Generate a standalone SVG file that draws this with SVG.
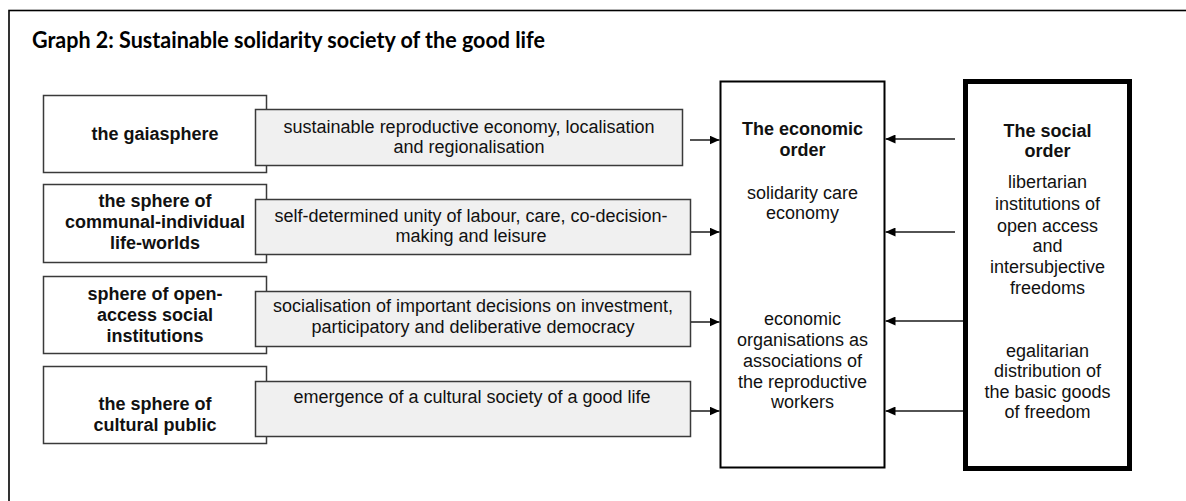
<svg xmlns="http://www.w3.org/2000/svg" width="1186" height="501" viewBox="0 0 1186 501">
<defs>
<style>
.frame{fill:#fff;stroke:#000;stroke-width:1.6}
.sphere{fill:#fff;stroke:#3a3a3a;stroke-width:1.5}
.grey{fill:#f0f0f0;stroke:#3a3a3a;stroke-width:1.5}
.econ{fill:#fff;stroke:#000;stroke-width:2}
.social{fill:#fff;stroke:#000;stroke-width:5}
.conn{stroke:#1a1a1a;stroke-width:1.5;fill:none;marker-end:url(#arr)}
text{font-family:"Liberation Sans",Arial,sans-serif;font-size:18px;fill:#111;text-anchor:middle}
.b{font-weight:bold}
.title{font-family:Lato,"Open Sans","Liberation Sans",sans-serif;font-weight:bold;font-size:23px;text-anchor:start;fill:#000}
</style>
<marker id="arr" markerUnits="userSpaceOnUse" markerWidth="10" markerHeight="9" refX="10" refY="4.5" orient="auto">
<path d="M0,0 L10,4.5 L0,9 Z" fill="#000"/>
</marker>
</defs>
<rect class="frame" x="9" y="10.5" width="1200" height="520"/>
<text class="title" x="32" y="48" textLength="513" lengthAdjust="spacingAndGlyphs">Graph 2: Sustainable solidarity society of the good life</text>

<g id="sphere1">
<rect class="sphere" x="43.5" y="95.5" width="223" height="77"/>
<text class="b" x="155" y="140">the gaiasphere</text>
</g>
<g id="sphere2">
<rect class="sphere" x="43.5" y="184.5" width="223" height="78"/>
<text class="b" x="155" y="207">the sphere of</text>
<text class="b" x="155" y="228">communal-individual</text>
<text class="b" x="155" y="249">life-worlds</text>
</g>
<g id="sphere3">
<rect class="sphere" x="43.5" y="276.5" width="223" height="77"/>
<text class="b" x="155" y="300">sphere of open-</text>
<text class="b" x="155" y="321">access social</text>
<text class="b" x="155" y="342">institutions</text>
</g>
<g id="sphere4">
<rect class="sphere" x="43.5" y="366.5" width="223" height="77"/>
<text class="b" x="155" y="410">the sphere of</text>
<text class="b" x="155" y="431">cultural public</text>
</g>

<g id="grey1">
<rect class="grey" x="255.5" y="109.5" width="427" height="56"/>
<text x="469" y="133">sustainable reproductive economy, localisation</text>
<text x="469" y="153">and regionalisation</text>
</g>
<g id="grey2">
<rect class="grey" x="255.5" y="199.5" width="435" height="55"/>
<text x="471" y="222">self-determined unity of labour, care, co-decision-</text>
<text x="471" y="242">making and leisure</text>
</g>
<g id="grey3">
<rect class="grey" x="255.5" y="291.5" width="435" height="55"/>
<text x="473" y="312">socialisation of important decisions on investment,</text>
<text x="473" y="333">participatory and deliberative democracy</text>
</g>
<g id="grey4">
<rect class="grey" x="255.5" y="381.5" width="435" height="55"/>
<text x="472" y="403">emergence of a cultural society of a good life</text>
</g>

<g id="economic-order">
<rect class="econ" x="720.5" y="81.5" width="164" height="386"/>
<text class="b" x="802.5" y="135">The economic</text>
<text class="b" x="802.5" y="156">order</text>
<text x="802.5" y="199">solidarity care</text>
<text x="802.5" y="219">economy</text>
<text x="802.5" y="325">economic</text>
<text x="802.5" y="346">organisations as</text>
<text x="802.5" y="367">associations of</text>
<text x="802.5" y="388">the reproductive</text>
<text x="802.5" y="408">workers</text>
</g>

<g id="social-order">
<rect class="social" x="965.5" y="81.5" width="164" height="387"/>
<text class="b" x="1047.5" y="137">The social</text>
<text class="b" x="1047.5" y="157">order</text>
<text x="1047.5" y="188">libertarian</text>
<text x="1047.5" y="210">institutions of</text>
<text x="1047.5" y="232">open access</text>
<text x="1047.5" y="252">and</text>
<text x="1047.5" y="273">intersubjective</text>
<text x="1047.5" y="294">freedoms</text>
<text x="1047.5" y="357">egalitarian</text>
<text x="1047.5" y="377">distribution of</text>
<text x="1047.5" y="398">the basic goods</text>
<text x="1047.5" y="418">of freedom</text>
</g>

<g id="connectors">
<line class="conn" x1="690" y1="140" x2="719.5" y2="140"/>
<line class="conn" x1="691" y1="232" x2="719.5" y2="232"/>
<line class="conn" x1="691" y1="322" x2="719.5" y2="322"/>
<line class="conn" x1="691" y1="411" x2="719.5" y2="411"/>
<line class="conn" x1="955" y1="139" x2="885.5" y2="139"/>
<line class="conn" x1="955" y1="232" x2="885.5" y2="232"/>
<line class="conn" x1="963" y1="321" x2="885.5" y2="321"/>
<line class="conn" x1="963" y1="411" x2="885.5" y2="411"/>
</g>
</svg>
